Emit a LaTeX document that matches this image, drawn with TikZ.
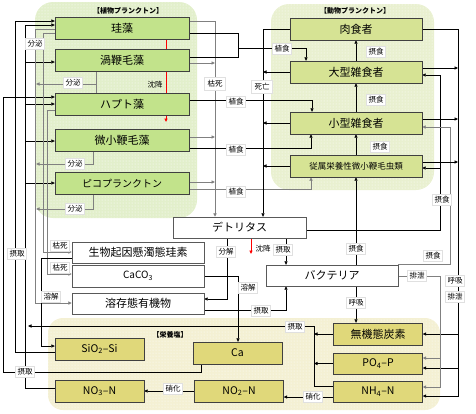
\documentclass[tikz,border=0pt]{standalone}
\usepackage{fontspec}
\setmainfont{Noto Sans CJK JP}
\usetikzlibrary{arrows.meta,patterns}
\definecolor{phyfill}{HTML}{C2E38B}
\definecolor{phybg}{HTML}{E2EFCB}
\definecolor{zoofill}{HTML}{D6E394}
\definecolor{zoobg}{HTML}{E9F0D0}
\definecolor{nutfill}{HTML}{E0D87A}
\definecolor{nutbg}{HTML}{F4F0D3}
\pgfdeclarelayer{bgl}
\pgfdeclarelayer{lns}
\pgfsetlayers{bgl,lns,main}
\newcommand{\fs}[1]{\fontsize{#1}{#1}\selectfont}

\begin{document}
\begin{tikzpicture}[x=1pt,y=-1pt,>={Triangle[length=3.5pt,width=3.2pt]},
    phy/.style={draw=black!75,fill=phyfill,minimum width=134pt,minimum height=22pt,inner sep=0pt,font=\fs{11}},
    zoo/.style={draw=black!75,fill=zoofill,minimum width=132pt,minimum height=22pt,inner sep=0pt,font=\fs{11}},
    wbox/.style={draw=black!65,fill=white,minimum width=132pt,minimum height=21pt,inner sep=0pt,font=\fs{11}},
    nut/.style={draw=black!75,fill=nutfill,minimum width=89pt,minimum height=22pt,inner sep=0pt,font=\fs{10.5}},
    lab/.style={fill=white,draw=black!12,font=\fs{7.5},inner sep=2pt},
    ttl/.style={font=\fs{7}\bfseries},
    ln/.style={draw=black,line width=0.6pt},
    gl/.style={draw=black!50,line width=1pt},
    sink/.style={draw=red,line width=1pt}]
  \useasboundingbox (0,0) rectangle (476,413);

  % groups
  \begin{pgfonlayer}{bgl}
    \fill[phybg,rounded corners=18pt] (35,2) rectangle (197,218);
    \fill[pattern=dots,pattern color=white,rounded corners=18pt] (35,2) rectangle (197,218);
    \fill[zoobg,rounded corners=18pt] (271,4) rectangle (434,190);
    \fill[pattern=dots,pattern color=white,rounded corners=18pt] (271,4) rectangle (434,190);
    \fill[nutbg,rounded corners=15pt] (48,318) rectangle (440,410);
    \fill[pattern=dots,pattern color=white,rounded corners=15pt] (48,318) rectangle (440,410);
  \end{pgfonlayer}
  \node[ttl] (tphy) at (128,11) {【植物プランクトン】};
  \node[ttl] (tzoo) at (355,11) {【動物プランクトン】};
  \node[ttl] (tnut) at (170,335) {【栄養塩】};

  % phytoplankton
  \node[phy] (diatom) at (122,28) {珪藻};
  \node[phy] (dino) at (122,60) {渦鞭毛藻};
  \node[phy] (hapto) at (122,104) {ハプト藻};
  \node[phy] (micro) at (122,140) {微小鞭毛藻};
  \node[phy,font=\fs{10}] (pico) at (122,183.5) {ピコプランクトン};

  % zooplankton
  \node[zoo] (carn) at (356,29) {肉食者};
  \node[zoo] (large) at (356,72) {大型雑食者};
  \node[zoo] (small) at (356,123) {小型雑食者};
  \node[zoo,font=\fs{8.5}] (hnf) at (356,166) {従属栄養性微小鞭毛虫類};

  % detritus, bacteria and particles
  \node[wbox,minimum width=133pt] (detr) at (239.5,227.5) {デトリタス};
  \node[wbox] (bact) at (332,275.5) {バクテリア};
  \node[wbox] (bsi) at (138,252.5) {生物起因懸濁態珪素};
  \node[wbox,minimum height=22pt,font=\fs{10}] (caco) at (138,276) {CaCO\textsubscript{3}};
  \node[wbox] (dom) at (138,303.5) {溶存態有機物};

  % nutrients
  \node[nut] (sio) at (99.5,349) {SiO\textsubscript{2}–Si};
  \node[nut] (ca) at (237.5,353) {Ca};
  \node[nut] (nothree) at (99.5,391) {NO\textsubscript{3}–N};
  \node[nut] (notwo) at (239,391) {NO\textsubscript{2}–N};
  \node[nut,font=\fs{11}] (dic) at (378,334) {無機態炭素};
  \node[nut,minimum height=21pt] (po) at (378,363.5) {PO\textsubscript{4}–P};
  \node[nut,minimum height=21pt] (nh) at (378,391.5) {NH\textsubscript{4}–N};

  \begin{pgfonlayer}{lns}
    % uptake
    \draw[ln,->] (ca.south -| 201,0) -- (201,372) -| (3,97) -- (hapto.west |- 0,97);
    \draw[ln,->] (sio.west |- 0,352) -| (15,21) -- (diatom.west |- 0,21);
    \draw[ln] (nothree.west |- 0,388) -| (25,25);
    \foreach \n/\y in {diatom/25,dino/62,hapto/104,micro/141,pico/183}
      \draw[ln,->] (25,\y) -- (\n.west |- 0,\y);
    \draw[ln,->] (314,326) -- (28,326);
    \draw[ln,->] (dic.west) -- (314,334);
    \draw[ln,->] (po.west) -- (314,363.5);
    \draw[ln] (nh.west |- 0,386) -| (314,326);
    % excretion
    \draw[gl,->] (diatom.west |- 0,29) -| (35,303) -- (dom.west |- 0,303);
    \draw[gl,->] (dino.south -| 96,0) |- (36,84);
    \draw[gl] (96,84) -- (hapto.north -| 96,0);
    \draw[gl,->] (micro.south -| 93,0) |- (36,164);
    \draw[gl,->] (pico.south -| 93,0) |- (36,209);
    % death of phytoplankton
    \draw[gl,->] (diatom.west |- 0,33) -| (43,252) -- (bsi.west |- 0,252);
    \draw[gl,->] (hapto.west |- 0,110) -| (47,274) -- (caco.west |- 0,274);
    \draw[ln,->] (bsi.west |- 0,258) -| (41,346) -- (sio.west |- 0,346);
    \draw[gl,->] (diatom.east |- 0,21) -| (detr.north -| 215,0);
    \foreach \n/\y in {dino/63,micro/137,pico/182}
      \draw[gl,->] (\n.east |- 0,\y) -- (215,\y);
    % grazing
    \draw[ln] (diatom.east |- 0,33) -| (238,57) -- (dino.east |- 0,57);
    \draw[ln,->] (238,48) -| (large.north -| 306,0);
    \draw[ln,->] (hapto.east |- 0,100) -| (small.north -| 312,0);
    \draw[ln,->] (micro.east |- 0,148) -| (small.south -| 311,0);
    \draw[gl,->] (pico.east |- 0,189) -| (hnf.south -| 311,0);
    \draw[ln,->] (large) -- (carn);
    \draw[ln,->] (small) -- (large);
    \draw[ln,->] (hnf) -- (small);
    \draw[ln,->] (bact.north -| 356,0) -- (hnf.south);
    \draw[ln] (detr.east |- 0,230) -| (440,75);
    \draw[ln,->] (440,75) -- (large.east |- 0,75);
    \draw[ln,->] (440,168) -- (hnf.east |- 0,168);
    \draw[gl,->] (bact.north east) -| (450,127) -- (small.east |- 0,127);
    % death of zooplankton
    \draw[ln,->] (carn.west) -| (detr.north -| 263,0);
    \foreach \n in {large,small,hnf}
      \draw[ln,->] (\n.west) -- (\n.west -| 263,0);
    % respiration, excretion
    \draw[ln,->] (carn.east) -| (458,396) -- (nh.east |- 0,396);
    \foreach \n/\y in {large/68,small/119,hnf/162}
      \draw[ln,->] (\n.east |- 0,\y) -- (458,\y);
    \draw[ln,->] (458,334) -- (dic.east);
    \draw[ln,->] (458,368) -- (po.east |- 0,368);
    \draw[gl,->] (bact.east |- 0,276) -| (440,387) -- (nh.east |- 0,387);
    \draw[gl,->] (440,358) -- (po.east |- 0,358);
    \draw[ln,->] (bact.south -| 356,0) -- (dic.north -| 356,0);
    % detritus and dissolved matter
    \draw[ln,->] (detr.south -| 286,0) -- (bact.north -| 286,0);
    \draw[sink,->] (detr.south -| 251,0) -- (251,254);
    \draw[ln,->] (detr.south -| 227,0) |- (dom.east |- 0,299);
    \draw[ln,->] (caco.east) -| (ca.north -| 238,0);
    \draw[ln,->] (dom.east |- 0,310) -| (bact.south -| 286,0);
    % sinking
    \draw[sink] (diatom.south -| 166,0) -- (dino.north -| 166,0);
    \draw[sink] (dino.south -| 166,0) -- (hapto.north -| 166,0);
    \draw[sink,->] (hapto.south -| 166,0) -- (166,122);
    % nitrification
    \draw[ln,->] (notwo) -- (nothree);
    \draw[ln,->] (nh.west |- 0,397) -- (notwo.east |- 0,397);
  \end{pgfonlayer}

  % labels
  \node[lab] (bp1) at (35,44) {分泌};
  \node[lab] (bp2) at (73,83) {分泌};
  \node[lab] (bp3) at (75,164) {分泌};
  \node[lab] (bp4) at (75,209) {分泌};
  \node[font=\fs{7.5}] (ch1) at (155,85) {沈降};
  \node[lab,inner sep=3pt] (ks1) at (215,84) {枯死};
  \node[lab] (sh1) at (282,49) {植食};
  \node[lab] (sh2) at (236,102) {植食};
  \node[lab] (sh3) at (236,150) {植食};
  \node[lab] (sh4) at (236,192) {植食};
  \node[lab,inner sep=3pt] (sb) at (262,87) {死亡};
  \node[lab] (ss1) at (376,52) {摂食};
  \node[lab] (ss2) at (376,100) {摂食};
  \node[lab] (ss3) at (380,147) {摂食};
  \node[lab] (ss4) at (442,200) {摂食};
  \node[lab] (ss5) at (356,249) {摂食};
  \node[lab] (ss6) at (433,256) {摂食};
  \node[lab] (st1) at (17,254) {摂取};
  \node[lab] (st2) at (25,372) {摂取};
  \node[lab] (st3) at (283,250) {摂取};
  \node[lab] (st4) at (261,311) {摂取};
  \node[lab] (st5) at (295,327) {摂取};
  \node[lab] (ks2) at (60,246) {枯死};
  \node[lab] (ks3) at (60,268) {枯死};
  \node[lab] (yk1) at (51,297) {溶解};
  \node[lab] (yk2) at (248,288) {溶解};
  \node[lab] (bk) at (226,252) {分解};
  \node[font=\fs{7.5}] (ch2) at (263,249) {沈降};
  \node[lab] (ky1) at (356,303) {呼吸};
  \node[lab] (hs1) at (417,276) {排泄};
  \node[lab] (ky2) at (455,281) {呼吸};
  \node[lab] (hs2) at (455,297) {排泄};
  \node[lab] (sk1) at (173,389) {硝化};
  \node[lab] (sk2) at (313,397) {硝化};
\end{tikzpicture}
\end{document}
